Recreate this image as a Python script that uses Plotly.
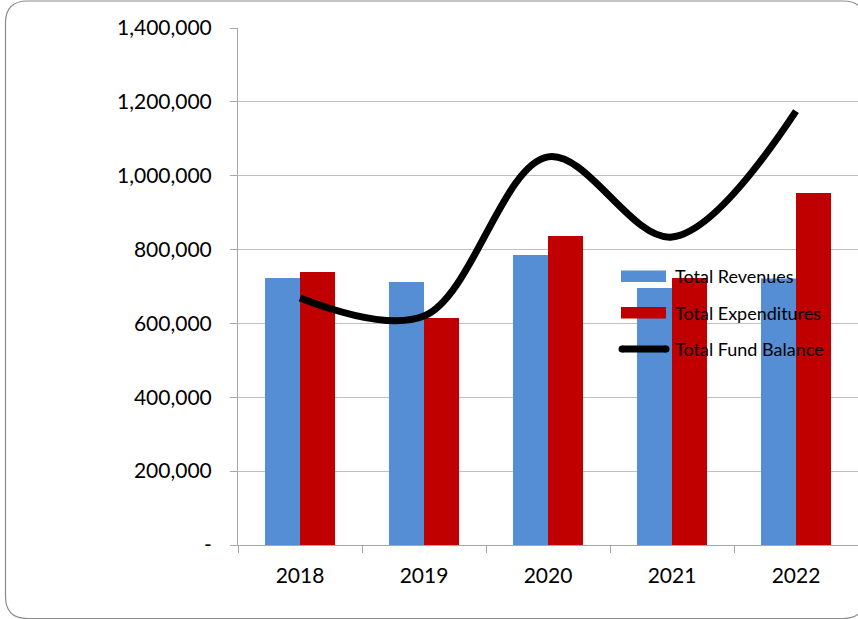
import plotly.graph_objects as go

years = ["2018", "2019", "2020", "2021", "2022"]
revenues = [723000, 712000, 785000, 696000, 722000]
expenditures = [739000, 615000, 837000, 723000, 953000]
fund_balance = [669000, 620000, 1051000, 834000, 1175000]

ytick_vals = [0, 200000, 400000, 600000, 800000, 1000000, 1200000, 1400000]
ytick_text = ["-", "200,000", "400,000", "600,000", "800,000", "1,000,000", "1,200,000", "1,400,000"]

BLUE = "#558ED5"
RED = "#C00000"
W, H = 858, 619
L, R, T, B = 238, 0, 28, 74
PW = W - L - R
PH = H - T - B

def px(x):
    return (x - L) / PW

def py(y):
    return (H - B - y) / PH

fig = go.Figure()
fig.add_trace(go.Bar(x=years, y=revenues, name="Total Revenues", marker_color=BLUE,
                     marker_line_width=0))
fig.add_trace(go.Bar(x=years, y=expenditures, name="Total Expenditures", marker_color=RED,
                     marker_line_width=0))
fig.add_trace(go.Scatter(x=years, y=fund_balance, name="Total Fund Balance", mode="lines",
                         line=dict(color="black", width=7, shape="spline", smoothing=1)))

shapes = []
# legend swatches
shapes.append(dict(type="rect", xref="paper", yref="paper", x0=px(621), x1=px(666),
                   y0=py(282), y1=py(270.5), fillcolor=BLUE, line_width=0, layer="above"))
shapes.append(dict(type="rect", xref="paper", yref="paper", x0=px(621), x1=px(666),
                   y0=py(318.5), y1=py(307), fillcolor=RED, line_width=0, layer="above"))
shapes.append(dict(type="line", xref="paper", yref="paper", x0=px(622), x1=px(666),
                   y0=py(349), y1=py(349), line=dict(color="black", width=7), layer="above"))
for cx in (622, 666):
    shapes.append(dict(type="circle", xref="paper", yref="paper", x0=px(cx - 3.5), x1=px(cx + 3.5),
                       y0=py(352.5), y1=py(345.5), fillcolor="black", line_width=0, layer="above"))

# rounded frame
fl, ft, fr, fb, rad = 5.5, 1.0, 865, 618.5, 22
pts = [
    ("M", fl, ft + rad),
    ("Q", fl, ft, fl + rad, ft),
    ("L", fr - rad, ft),
    ("Q", fr, ft, fr, ft + rad),
    ("L", fr, fb - rad),
    ("Q", fr, fb, fr - rad, fb),
    ("L", fl + rad, fb),
    ("Q", fl, fb, fl, fb - rad),
]
path = ""
for p in pts:
    cmd = p[0]
    coords = p[1:]
    s = []
    for i in range(0, len(coords), 2):
        s.append(f"{px(coords[i]):.5f},{py(coords[i+1]):.5f}")
    path += cmd + " ".join(s) + " "
path += "Z"
shapes.append(dict(type="path", xref="paper", yref="paper", path=path,
                   line=dict(color="#8C8C8C", width=1.2), layer="above"))

annotations = []
for label, yc in (("Total Revenues", 276), ("Total Expenditures", 313), ("Total Fund Balance", 349)):
    annotations.append(dict(x=px(673), y=py(yc), xref="paper", yref="paper", text=label,
                            showarrow=False, xanchor="left", yanchor="middle",
                            font=dict(family="Lato", size=18, color="#000000")))

fig.update_layout(
    width=W, height=H,
    margin=dict(l=L, r=R, t=T, b=B, pad=0),
    paper_bgcolor="white", plot_bgcolor="white",
    barmode="group", bargap=0.435, bargroupgap=0,
    showlegend=False,
    shapes=shapes, annotations=annotations,
    font=dict(family="Lato", color="#000000"),
)
fig.update_xaxes(
    type="category", range=[-0.5, 4.5],
    showline=True, linecolor="#A6A6A6", linewidth=1,
    ticks="outside", tickson="boundaries", ticklen=7, tickcolor="#A6A6A6",
    showgrid=False, tickfont=dict(family="Lato", size=21, color="#000000"),
    ticklabelstandoff=12,
)
fig.update_yaxes(
    range=[0, 1400000], tickvals=ytick_vals, ticktext=ytick_text,
    showline=True, linecolor="#A6A6A6", linewidth=1,
    ticks="outside", ticklen=7, tickcolor="#A6A6A6",
    showgrid=True, gridcolor="#BFBFBF", gridwidth=1,
    zeroline=False,
    tickfont=dict(family="Lato", size=21, color="#000000"),
    ticklabelstandoff=14,
)

fig.write_html("out.html", config={"displayModeBar": False},
               post_script="document.body.style.margin='0';document.body.style.overflow='hidden';")
